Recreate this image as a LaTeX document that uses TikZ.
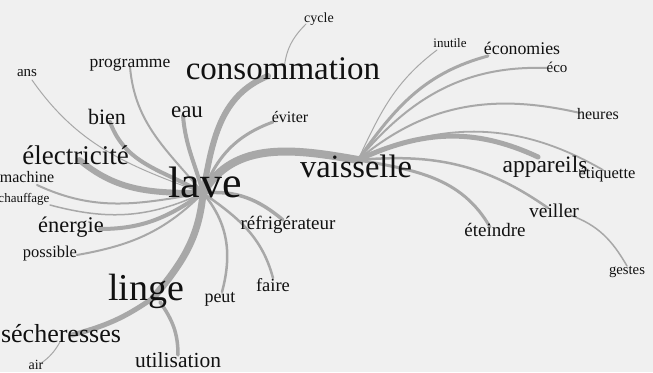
\documentclass[tikz,border=0pt]{standalone}
\usepackage{fontspec}
\setmainfont{Liberation Serif}
\usepackage{xcolor}
\usetikzlibrary{backgrounds}
\definecolor{paper}{HTML}{F0F0F0}
\definecolor{branch}{HTML}{A8A8A8}
\definecolor{ink}{HTML}{111111}

\begin{document}
\begin{tikzpicture}[x=1pt, y=1pt,
  word/.style={font=\fontsize{#1}{#1}\selectfont, text=ink, inner sep=0pt, anchor=base},
  link/.style={draw=branch, line cap=round}]
\useasboundingbox (0,0) rectangle (653,372);
% words: name/x/baseline (from top)/size/text
\foreach \n/\x/\y/\s/\t in {lave/205/198/44/lave, vais/356/178/32.5/vaisselle,
  cons/283/80/33/consommation, linge/146/301/38/linge, elec/75.5/165/27/électricité,
  sech/61/343/26/sécheresses, util/178/367/21.5/utilisation, appa/545/173/23.5/appareils,
  bien/107/125/22/bien, eau/187/118/23/eau, ener/71/233/22.4/énergie,
  refr/288/230/19/réfrigérateur, faire/273/292/18.5/faire, peut/220/303/18/peut,
  etei/495/237/19/éteindre, veil/554/218/19.5/veiller, econ/522/55/17.8/économies,
  heur/598/120/16/heures, etiq/607/179/16.5/étiquette, gest/627/275/14.7/gestes,
  eco/557/73/15/éco, inut/450/48/13/inutile, cycle/319/23/14/cycle,
  prog/130/68/17.5/programme, ans/27/77/15/ans, evit/290/123/16/éviter,
  mach/27/183/16/machine, chau/24/203/13/chauffage, poss/50/258/16.5/possible,
  air/36/370/14/air} {
  \node[word=\s] (\n) at (\x,372-\y) {\t};
}
\begin{scope}[on background layer]
\fill[paper] (0,0) rectangle (653,372);
% branches: from/shift/to/shift/width/out/in
\foreach \a/\ax/\ay/\b/\bx/\by/\w/\o/\i in {
  lave/-2/5/cons/-15/4/6/80/202, lave/-2/5/vais/2/18/8/60/170,
  lave/-2/5/linge/7/3/7/-95/50, lave/-2/5/elec/4/5/6/180/-40,
  lave/-2/5/bien/3/3/4/150/-70, lave/-2/5/eau/-4/2/4/105/-85,
  lave/-2/5/prog/0/1/2/130/-85, lave/-2/5/ans/5/-3/1/160/-55,
  lave/-2/5/evit/-17/1/3/70/200, lave/-2/5/mach/10/-2/2/190/-25,
  lave/-2/5/chau/26/-2/1.5/205/-15, lave/-2/5/ener/29/4/4/215/0,
  lave/-2/5/poss/27/3/2/225/10, lave/-2/5/refr/-5/10/3.5/5/140,
  lave/-2/5/faire/0/14/2.5/-35/105, lave/-2/5/peut/2/11/2.5/-50/75,
  cons/1/10/cycle/-13/-1/1/85/225,
  vais/2/18/inut/-13/-2/1/65/217, vais/2/18/econ/-34/-1/3/55/195,
  vais/2/18/eco/-10/5/2/50/178, vais/2/18/heur/-18/7/2/40/167,
  vais/2/18/appa/-7/16/5/25/155, vais/2/18/etiq/-4/9/1.8/25/150,
  vais/2/18/veil/-6/10/2.5/5/145, vais/2/18/etei/-5/10/3/-10/120,
  veil/16/3/gest/0/9/1.5/-20/120,
  linge/7/3/sech/11/8/5/215/15, linge/14/-1/util/0/12/3.5/-55/90,
  sech/-1/1/air/4/6/1/240/35} {
  \draw[link, line width=\w pt] ([xshift=\ax pt, yshift=\ay pt]\a.base)
    to[out=\o, in=\i] ([xshift=\bx pt, yshift=\by pt]\b.base);
}
\end{scope}
\end{tikzpicture}
\end{document}
